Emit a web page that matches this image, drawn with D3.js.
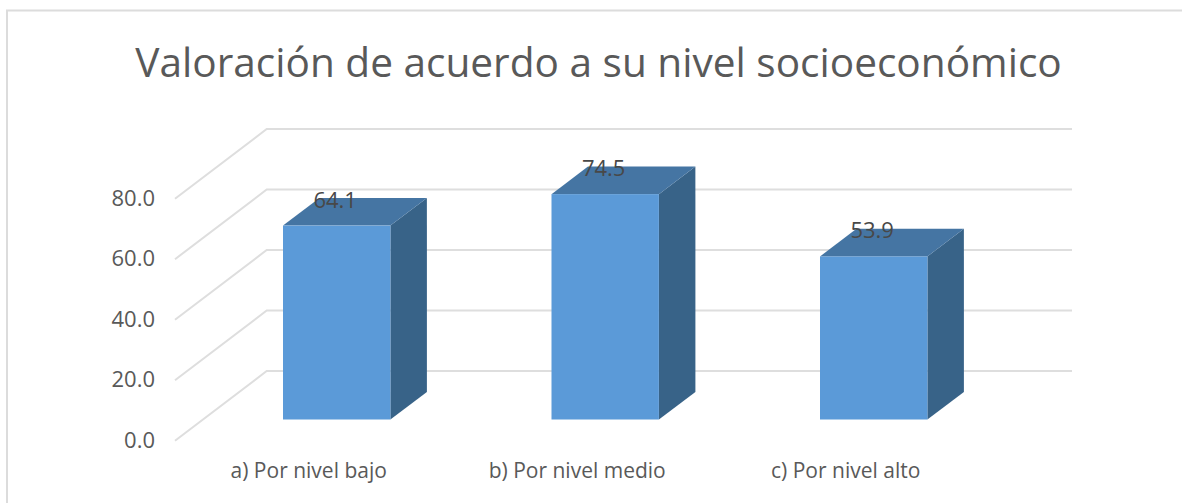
<!DOCTYPE html>
<html><head><meta charset="utf-8"><style>html,body{margin:0;padding:0;background:#fff;overflow:hidden}</style>
<script src="https://cdn.jsdelivr.net/npm/d3@7"></script></head><body><svg id="c" width="1182" height="503" style="display:block"></svg>
<script>
const categories = ["a) Por nivel bajo", "b) Por nivel medio", "c) Por nivel alto"];
const values = [64.1, 74.5, 53.9];
const ticks = [0, 20, 40, 60, 80];
const titleText = "Valoración de acuerdo a su nivel socioeconómico";

const svg = d3.select("#c");
const font = "'Open Sans', 'Noto Sans', sans-serif";
const W = 1182, H = 503;
// oblique offsets of the 3D box
const wallDx = 91.7, wallDy = -69.7, depthDx = 36.5, depthDy = -27.6, floorShift = -21.2;
const y = d3.scaleLinear().domain([0, 80]).range([440.7, 198.7]);
const x = d3.scaleBand().domain(categories).range([202.45, 1007.95]).paddingInner(0.6).paddingOuter(0.3);
const frontX = 175, rightX = 1072;

// frame
svg.append("path").attr("d", `M7 ${H}V10.5H${W}`).attr("fill", "none").attr("stroke", "#dcdcdc").attr("stroke-width", 2);

// title
svg.append("text").attr("x", 598.5).attr("y", 76.5).attr("text-anchor", "middle")
  .attr("font-family", font).attr("font-size", 40.6).attr("fill", "#595959").text(titleText);

// gridlines on floor + back wall
svg.append("g").selectAll("path").data(ticks).join("path")
  .attr("d", d => `M${frontX} ${y(d)}l${wallDx} ${wallDy}H${rightX}`)
  .attr("fill", "none").attr("stroke", "#dedede").attr("stroke-width", 2);

// y axis labels
const yAxis = d3.axisLeft(y).tickValues(ticks).tickSize(0).tickPadding(0).tickFormat(d3.format(".1f"));
const gy = svg.append("g").attr("transform", "translate(155,0)").call(yAxis);
gy.select(".domain").remove();
gy.selectAll("text").attr("font-family", font).attr("font-size", 22).attr("fill", "#595959").attr("dy", "0.3em");

// bars
const bars = svg.append("g").selectAll("g").data(categories).join("g");
const base = y(0) + floorShift;
const barTop = (i) => y(values[i]) + floorShift;
bars.append("path").attr("fill", "#386388")
  .attr("d", (c, i) => `M${x(c) + x.bandwidth()} ${base}l${depthDx} ${depthDy}V${barTop(i) + depthDy}l${-depthDx} ${-depthDy}Z`);
bars.append("path").attr("fill", "#4575a3")
  .attr("d", (c, i) => `M${x(c)} ${barTop(i)}l${depthDx} ${depthDy}h${x.bandwidth()}l${-depthDx} ${-depthDy}Z`);
bars.append("rect").attr("fill", "#5b9ad8")
  .attr("x", c => x(c)).attr("y", (c, i) => barTop(i))
  .attr("width", x.bandwidth()).attr("height", (c, i) => base - barTop(i));
bars.append("text").attr("text-anchor", "middle").attr("font-family", font).attr("font-size", 22).attr("fill", "#484848")
  .attr("x", c => x(c) + x.bandwidth() / 2 - 1.5).attr("y", (c, i) => barTop(i) - 18)
  .text((c, i) => values[i].toFixed(1));

// category labels
svg.append("g").selectAll("text").data(categories).join("text")
  .attr("text-anchor", "middle").attr("font-family", font).attr("font-size", 21).attr("fill", "#595959")
  .attr("x", c => x(c) + x.bandwidth() / 2 - 28).attr("y", 478).text(c => c);
</script></body></html>
